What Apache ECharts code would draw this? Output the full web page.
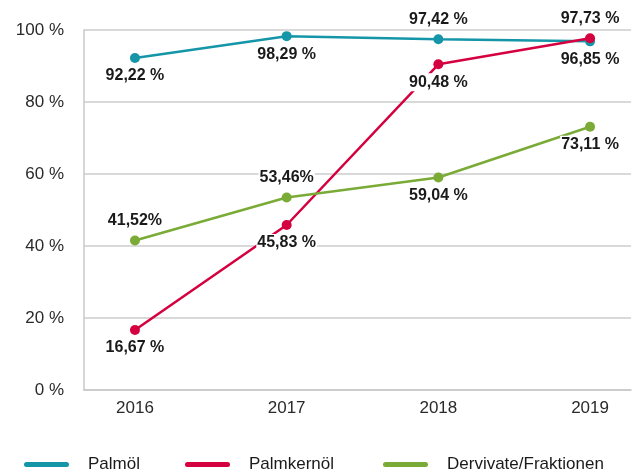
<!DOCTYPE html>
<html><head><meta charset="utf-8">
<script src="https://cdn.jsdelivr.net/npm/echarts@6/dist/echarts.min.js"></script>
<style>html,body{margin:0;padding:0;background:#fff}#c{width:632px;height:472px}</style>
</head><body><div id="c"></div>
<script>
const years = [2016, 2017, 2018, 2019];
const yTicks = [0, 20, 40, 60, 80, 100];
const seriesNames = ['Palmöl', 'Palmkernöl', 'Dervivate/Fraktionen'];
const palmoel = [92.22, 98.29, 97.42, 96.85];
const palmkernoel = [16.67, 45.83, 90.48, 97.73];
const derivate = [41.52, 53.46, 59.04, 73.11];
const labelTexts = [
  ['92,22 %', '98,29 %', '97,42 %', '96,85 %'],
  ['16,67 %', '45,83 %', '90,48 %', '97,73 %'],
  ['41,52%', '53,46%', '59,04 %', '73,11 %']
];
// label placement (style only)
const labelSide = [
  ['bottom', 'bottom', 'top', 'bottom'],
  ['bottom', 'bottom', 'bottom', 'top'],
  ['top', 'top', 'bottom', 'bottom']
];
const labelDx = [
  [5, 0, 3, 4],
  [5, 0, 7, 3],
  [5, 0, 3, 4]
];
const colors = ['#1496a8', '#d5003f', '#7aab36'];
const values = [palmoel, palmkernoel, derivate];

const FONT = '"Liberation Sans", Arial, Helvetica, sans-serif';

const chart = echarts.init(document.getElementById('c'), null, {renderer: 'canvas'});

const series = values.map((vals, si) => ({
  name: seriesNames[si],
  type: 'line',
  data: vals.map((v, i) => ({
    value: [years[i], v],
    label: {
      show: true,
      position: labelSide[si][i],
      distance: labelSide[si][i] === 'bottom' ? 4 : 6,
      offset: [labelDx[si][i], 0],
      formatter: labelTexts[si][i]
    }
  })),
  symbol: 'circle',
  symbolSize: 10,
  showSymbol: true,
  itemStyle: {color: colors[si]},
  lineStyle: {color: colors[si], width: 2.5},
  label: {
    color: '#1a1a1a',
    fontFamily: FONT,
    fontWeight: 'bold',
    fontSize: 16,
    backgroundColor: '#fff',
    padding: [1, 1, 1, 1]
  },
  labelLayout: {hideOverlap: false},
  emphasis: {disabled: true},
  z: 2 + si
}));

const legendX = [19, 180, 378];
const legends = seriesNames.map((n, i) => ({
  data: [n],
  left: legendX[i],
  top: 451,
  itemWidth: 45,
  itemHeight: 5,
  icon: 'path://M2.5,0 L42.5,0 A2.5,2.5 0 0 1 42.5,5 L2.5,5 A2.5,2.5 0 0 1 2.5,0 Z',
  itemStyle: {borderWidth: 0},
  textStyle: {fontFamily: FONT, fontSize: 17, color: '#1a1a1a', padding: [0, 0, 0, 14]},
  selectedMode: false
}));

chart.setOption({
  animation: false,
  color: colors,
  grid: {left: 84, right: 1, top: 30, bottom: 82, containLabel: false},
  legend: legends,
  xAxis: {
    type: 'value',
    min: 2015.664,
    max: 2019.27,
    splitLine: {show: false},
    axisLine: {show: true, lineStyle: {color: '#c8c8c8', width: 1.5}},
    axisTick: {show: false},
    axisLabel: {
      customValues: years,
      fontFamily: FONT, fontSize: 17, color: '#2a2a2a', margin: 10,
      formatter: v => String(v)
    }
  },
  yAxis: {
    type: 'value',
    min: 0,
    max: 100,
    interval: 20,
    axisLine: {show: true, lineStyle: {color: '#c8c8c8', width: 1.5}},
    axisTick: {show: false},
    splitLine: {show: true, lineStyle: {color: '#cccccc', width: 1.5}},
    axisLabel: {
      fontFamily: FONT, fontSize: 17, color: '#2a2a2a', margin: 20,
      formatter: v => yTicks.includes(v) ? v + ' %' : ''
    }
  },
  series: series
});
</script>
</body></html>
